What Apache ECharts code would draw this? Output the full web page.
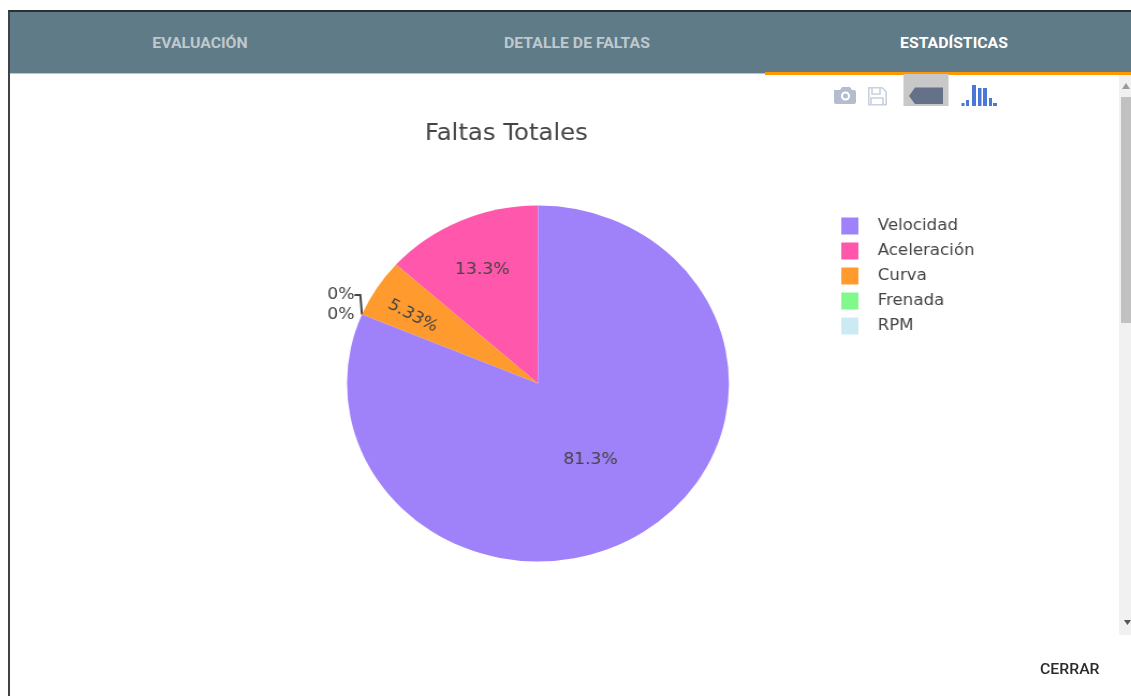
<!DOCTYPE html>
<html><head><meta charset="utf-8">
<script src="https://cdn.jsdelivr.net/npm/echarts@6/dist/echarts.min.js"></script>
<style>
html,body{margin:0;padding:0;background:#fff;width:1131px;height:696px;overflow:hidden}
#frame{position:absolute;left:8px;top:10px;width:1123px;height:686px;border-left:2px solid #3f4347;border-top:2px solid #2b2f33;box-sizing:border-box;background:#fff}
#hdr{position:absolute;left:10px;top:12px;width:1121px;height:61px;background:#607b88}
#under{position:absolute;left:10px;top:73px;width:755px;height:1px;background:#b7c4cb}
#active{position:absolute;left:765px;top:72px;width:366px;height:3px;background:#ff9800}
.tab{position:absolute;top:35px;font:700 14.500px Roboto,sans-serif;color:rgba(255,255,255,.6);white-space:nowrap;transform:translateX(-50%) scaleX(1.090)}
#chart{position:absolute;left:0;top:0;width:1054px;height:696px;transform-origin:0 0;transform:scaleX(1.073)}
#track{position:absolute;left:1119px;top:75px;width:12px;height:560px;background:#f1f1f1}
#thumb{position:absolute;left:1121px;top:97px;width:10px;height:226px;background:#c1c1c1}
#cerrar{position:absolute;left:1040px;top:661px;font:500 14.500px Roboto,sans-serif;color:#2a2a2a;transform-origin:0 0;transform:scaleX(1.090)}
svg.ic{position:absolute;overflow:visible}
</style></head><body>
<div id="frame"></div>
<div id="chart"></div>
<div id="hdr"></div><div id="under"></div><div id="active"></div>
<div class="tab" style="left:199.500px">EVALUACIÓN</div>
<div class="tab" style="left:577px">DETALLE DE FALTAS</div>
<div class="tab" style="left:954px;color:#fff">ESTADÍSTICAS</div>
<div id="track"></div><div id="thumb"></div>
<svg class="ic" style="left:1119px;top:75px" width="12" height="560"><path d="M3 18L11 18L7 12Z" fill="#9a9a9a" transform="translate(0,-4)"/><path d="M5 545L12 545L8.500 550Z" fill="#555"/></svg>
<svg class="ic" style="left:830px;top:80px" width="175" height="30">
<path d="M4 10h6l2-3h8l2 3h2a2 2 0 0 1 2 2v10a2 2 0 0 1-2 2H6a2 2 0 0 1-2-2V12z" fill="#b4bdd0"/><circle cx="15.500" cy="16" r="4.500" fill="#fff"/><circle cx="15.500" cy="16" r="2.500" fill="#b4bdd0"/>
<path d="M38.800 7.800h13.400l4 4v13H38.800z M42 8v6h8V8 M41 25v-7h12v7" fill="none" stroke="#c9d0de" stroke-width="1.600"/>
<rect x="73.500" y="-6" width="45" height="32" fill="#c8c8c8"/>
<path d="M79 16l6-8.500h28v16.500H85z" fill="#657189"/>
<g fill="#4a78d8"><rect x="131.500" y="23" width="3" height="3"/><rect x="136" y="20" width="3" height="6"/><rect x="142" y="5" width="4" height="21"/><rect x="148" y="8" width="3.500" height="18"/><rect x="153" y="8" width="4" height="18"/><rect x="159" y="18" width="3" height="8"/><rect x="163" y="23" width="4" height="3"/></g>
</svg>
<div id="cerrar">CERRAR</div>
<script>
const categories = ['Velocidad', 'Aceleración', 'Curva', 'Frenada', 'RPM'];
const faltas = [61, 10, 4, 0, 0];
const colors = ['#9f82f9', '#ff57ab', '#ff9a2e', '#80f98a', '#cbeaf4'];
const percentLabels = ['81.3%', '13.3%', '5.33%', '0%', '0%'];
const FONT = 'DejaVu Sans';
const chart = echarts.init(document.getElementById('chart'));
// counter-clockwise from the top: everything after the first category, then the first
const order = [1, 2, 3, 4, 0];
const pieData = order.map(i => ({
  name: categories[i], value: faltas[i],
  itemStyle: {color: colors[i]},
  labelLine: {show: i === 3, length: 6, length2: 5.4, lineStyle: {color: '#444', width: 2}},
  label: {
    position: faltas[i] === 0 ? 'outside' : 'inside',
    formatter: percentLabels[i],
    rotate: i === 2 ? -29 : 0
  }
}));
chart.setOption({
  animation: false,
  title: {text: 'Faltas Totales', left: 396, top: 123, padding: 0,
    textStyle: {fontFamily: FONT, fontWeight: 'normal', fontSize: 22.700, color: '#444'}},
  legend: {
    orient: 'vertical', left: 779, top: 211, padding: 5, icon: 'rect',
    itemWidth: 16, itemHeight: 17, itemGap: 5,
    data: categories, selectedMode: false,
    textStyle: {fontFamily: FONT, fontSize: 15.500, lineHeight: 17, color: '#444', padding: [3, 0, 0, 13]}
  },
  series: [{
    type: 'pie', center: [501.4, 383.500], radius: [0, 178],
    startAngle: 90, clockwise: false, avoidLabelOverlap: false,
    minShowLabelAngle: 0,
    data: pieData,
    itemStyle: {borderWidth: 0},
    label: {fontFamily: FONT, fontSize: 16, color: '#444'},
    labelLayout: p => ({
      0: {dx: -14.500, dy: -30},
      1: {dx: -43, dy: 3},
      2: {x: 305, y: 295, align: 'left', verticalAlign: 'middle'},
      3: {x: 305, y: 315, align: 'left', verticalAlign: 'middle'},
      4: {dx: -2}
    })[p.dataIndex]
  }]
});
</script>
</body></html>
